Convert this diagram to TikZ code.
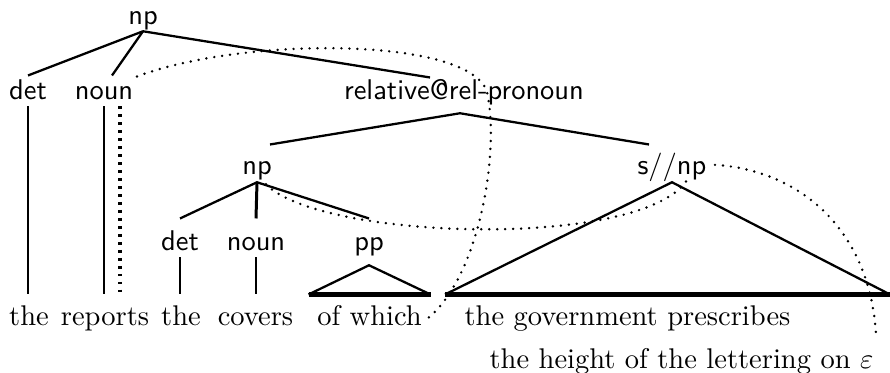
\documentclass[tikz,border=0pt]{standalone}
\usepackage{fontspec}
\usetikzlibrary{calc}
\begin{document}
\begin{tikzpicture}[x=0.351pt,y=-0.351pt,
  lbl/.style={font=\sffamily, inner sep=0pt, text height=7pt, text depth=2pt, anchor=base},
  word/.style={inner sep=0pt, text height=7pt, text depth=2pt, anchor=base},
  branch/.style={line width=0.8pt},
  stem/.style={line width=1.05pt},
  groundline/.style={line width=1.5pt},
  link/.style={line width=0.95pt, line cap=round, dash pattern=on 0pt off 2.8pt},
  thickdots/.style={line width=1.15pt, dash pattern=on 0.95pt off 1.85pt}
]
\useasboundingbox (0,0) rectangle (890,373);
% labels
\node[lbl] (np1) at (143,25) {np};
\node[lbl] (det1) at (28,100) {det};
\node[lbl] (noun1) at (104,100) {noun};
\node[lbl] (rel) at (464,100) {relative@rel-pronoun};
\node[lbl] (np2) at (257,175) {np};
\node[lbl] (snp) at (672,175) {s//np};
\node[lbl] (det2) at (180,251) {det};
\node[lbl] (noun2) at (256,251) {noun};
\node[lbl] (pp) at (369,251) {pp};
% words
\node[word] (w1) at (29,326) {the};
\node[word] (w2) at (105,326) {reports};
\node[word] (w3) at (181,326) {the};
\node[word] (w4) at (255.5,326) {covers};
\node[word] (w5) at (369.5,326) {of which};
\node[word] (w6) at (627.5,326) {the government prescribes};
\node[word] (w7) at (681.5,369) {the height of the lettering on $\varepsilon$};
% top np
\draw[branch] (np1.south) -- ($(det1.north)+(0,-4)$);
\draw[branch] (np1.south) -- ($(noun1.north)+(8,-4)$);
\draw[branch] (np1.south) -- ($(rel.north)+(-34,-2)$);
% relative
\coordinate (relroot) at ($(rel.south)+(-4,7)$);
\draw[branch] ($(np2.north)+(13,-10)$) -- (relroot) -- ($(snp.north)+(-23,-10)$);
% np2
\draw[branch] ($(det2.north)+(0,-12)$) -- ($(np2.south)+(0,1)$) -- ($(pp.north)+(0,-12)$);
\draw[stem] ($(np2.south)+(0,1)$) -- ($(noun2.north)+(0,-12)$);
% stems
\draw[stem] (det1.south) -- ($(det1.south |- w1.north)+(0,-11)$);
\draw[stem] (noun1.south) -- ($(noun1.south |- w2.north)+(0,-11)$);
\draw[thickdots] ($(noun1.south)+(16,0)$) -- ($(noun1.south |- w2.north)+(16,-11)$);
\draw[stem] (det2.south) -- ($(det2.south |- w3.north)+(0,-11)$);
\draw[stem] (noun2.south) -- ($(noun2.south |- w4.north)+(0,-11)$);
% triangles
\draw[branch] ($(w5.north)+(-61,-11)$) -- ($(pp.south)+(0,8)$) -- ($(w5.north)+(61,-11)$);
\draw[groundline] ($(w5.north)+(-61,-11)$) -- ($(w5.north)+(61,-11)$);
\draw[branch] ($(w6.north)+(-182.5,-11)$) -- ($(snp.south)+(0,1)$) -- ($(w6.north)+(262.5,-11)$);
\draw[groundline] ($(w6.north)+(-182.5,-11)$) -- ($(w6.north)+(262.5,-11)$);
% dotted links
\draw[link] ($(noun1.north)+(33,-3)$) .. controls (245,36) and (470,37) .. (487,92)
  .. controls (500,150) and (480,275) .. ($(w5.east)+(6,-1)$);
\draw[link] ($(np2.south)+(9,3)$) .. controls (320,240) and (640,250) .. ($(snp.south)+(15,-1)$);
\draw[link] ($(snp.east)+(8,-3)$) .. controls (800,170) and (870,230) .. ($(w7.north east)+(2,-14)$);
\end{tikzpicture}
\end{document}
